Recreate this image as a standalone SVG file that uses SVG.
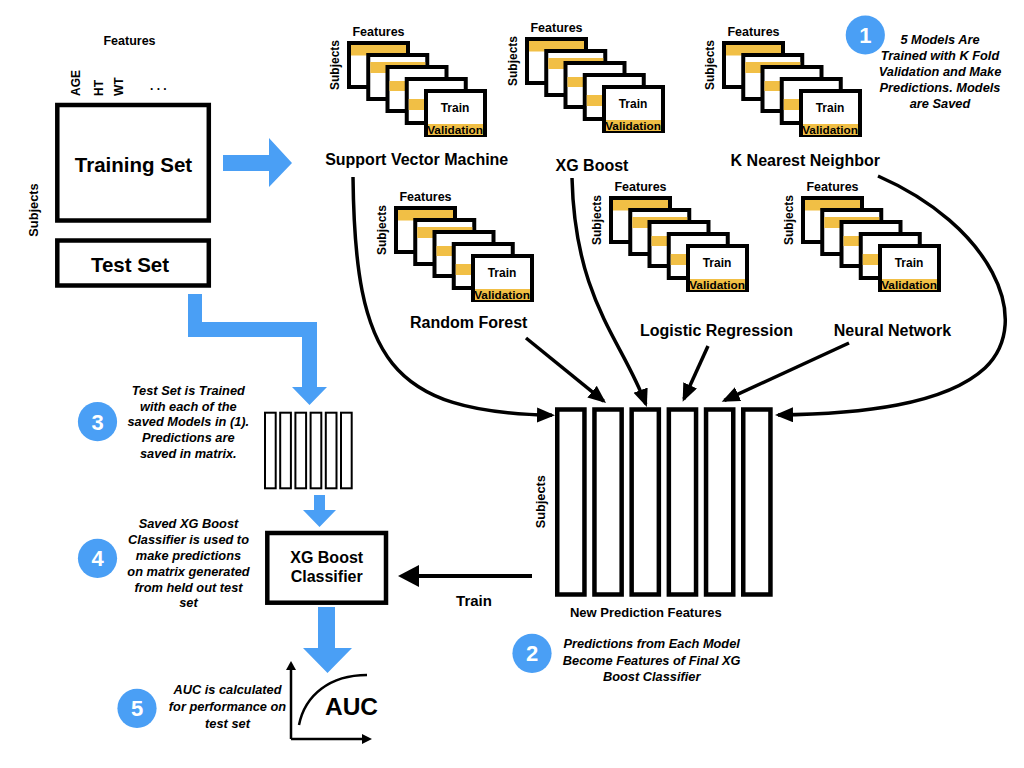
<svg xmlns="http://www.w3.org/2000/svg" xmlns:xlink="http://www.w3.org/1999/xlink" width="1024" height="768" viewBox="0 0 1024 768">
<style>
.t{font-family:"Liberation Sans",Arial,sans-serif;font-weight:bold;fill:#000}
.c{text-anchor:middle}
.it{font-style:italic;font-size:12.8px}
.lbl{font-size:16px}
.sm{font-size:12.5px}
.blue{fill:#4A9FF5}
.num{font-family:"Liberation Sans",Arial,sans-serif;font-weight:bold;font-size:22px;fill:#fff;text-anchor:middle}
.box{fill:#fff;stroke:#000;stroke-width:4.5}
.col{fill:#fff;stroke:#000;stroke-width:2}
.card{fill:#fff;stroke:#000;stroke-width:4}
.band{fill:#F1BF45}
.conn{fill:none;stroke:#000;stroke-width:3.5}
</style>
<defs>
<marker id="ah" markerUnits="userSpaceOnUse" markerWidth="20" markerHeight="16" refX="15" refY="7.5" orient="auto">
<path d="M0,0 L18,7.5 L0,15 z" fill="#000"/>
</marker>
<g id="stack">
<rect class="card" x="2" y="2" width="59" height="44"/><rect class="band" x="4" y="4" width="55" height="10.5"/>
<rect class="card" x="21.25" y="14" width="59" height="44"/><rect class="band" x="23.25" y="21" width="55" height="11"/>
<rect class="card" x="40.5" y="26" width="59" height="44"/><rect class="band" x="42.5" y="40" width="55" height="10"/>
<rect class="card" x="59.75" y="38" width="59" height="44"/><rect class="band" x="61.75" y="58" width="55" height="11"/>
<rect class="card" x="79" y="50" width="59" height="44"/><rect class="band" x="81" y="83" width="55" height="11"/>
</g>
</defs>
<rect width="1024" height="768" fill="#fff"/>

<g id="data">
<text class="t c sm" x="129.5" y="45">Features</text>
<text class="t" font-size="12" transform="translate(80,96) rotate(-90)">AGE</text>
<text class="t" font-size="12" transform="translate(102.5,96) rotate(-90)">HT</text>
<text class="t" font-size="12" transform="translate(123,96) rotate(-90)">WT</text>
<text class="t" font-size="12" x="150" y="90">. . .</text>
<text class="t c" font-size="12.8" transform="translate(38,210) rotate(-90)">Subjects</text>
</g>
<g id="training-set">
<rect class="box" x="57.3" y="105" width="151.5" height="115.5"/>
<text class="t c" font-size="20.5" x="133.5" y="171.5">Training Set</text>
</g>
<g id="test-set">
<rect class="box" x="57.3" y="240.5" width="151.5" height="45"/>
<text class="t c" font-size="20.5" x="130" y="271.5">Test Set</text>
</g>

<g id="svm">
<use xlink:href="#stack" href="#stack" x="347" y="41"/>
<text class="t c sm" x="378.5" y="36">Features</text>
<text class="t c" font-size="12" transform="translate(338.5,65) rotate(-90)">Subjects</text>
<text class="t c" font-size="12" x="455" y="112">Train</text>
<text class="t c" font-size="11.8" x="455" y="133.5">Validation</text>
<text class="t c lbl" x="416.7" y="165">Support Vector Machine</text>
</g>
<g id="xgboost">
<use xlink:href="#stack" href="#stack" x="525" y="37"/>
<text class="t c sm" x="556.5" y="32">Features</text>
<text class="t c" font-size="12" transform="translate(516.5,61) rotate(-90)">Subjects</text>
<text class="t c" font-size="12" x="633" y="108">Train</text>
<text class="t c" font-size="11.8" x="633" y="129.5">Validation</text>
<text class="t c lbl" x="592" y="171">XG Boost</text>
</g>
<g id="knn">
<use xlink:href="#stack" href="#stack" x="722" y="41"/>
<text class="t c sm" x="753.5" y="36">Features</text>
<text class="t c" font-size="12" transform="translate(713.5,65) rotate(-90)">Subjects</text>
<text class="t c" font-size="12" x="830" y="112">Train</text>
<text class="t c" font-size="11.8" x="830" y="133.5">Validation</text>
<text class="t c lbl" x="805.3" y="165.5">K Nearest Neighbor</text>
</g>
<g id="random-forest">
<use xlink:href="#stack" href="#stack" x="394" y="206"/>
<text class="t c sm" x="425.5" y="201">Features</text>
<text class="t c" font-size="12" transform="translate(385.5,230) rotate(-90)">Subjects</text>
<text class="t c" font-size="12" x="502" y="277">Train</text>
<text class="t c" font-size="11.8" x="502" y="298.5">Validation</text>
<text class="t c lbl" x="468.7" y="328">Random Forest</text>
</g>
<g id="logistic-regression">
<use xlink:href="#stack" href="#stack" x="609" y="196"/>
<text class="t c sm" x="640.5" y="191">Features</text>
<text class="t c" font-size="12" transform="translate(600.5,220) rotate(-90)">Subjects</text>
<text class="t c" font-size="12" x="717" y="267">Train</text>
<text class="t c" font-size="11.8" x="717" y="288.5">Validation</text>
<text class="t c lbl" x="716.5" y="336">Logistic Regression</text>
</g>
<g id="neural-network">
<use xlink:href="#stack" href="#stack" x="801" y="196"/>
<text class="t c sm" x="832.5" y="191">Features</text>
<text class="t c" font-size="12" transform="translate(792.5,220) rotate(-90)">Subjects</text>
<text class="t c" font-size="12" x="909" y="267">Train</text>
<text class="t c" font-size="11.8" x="909" y="288.5">Validation</text>
<text class="t c lbl" x="892.5" y="336">Neural Network</text>
</g>

<g id="step1">
<circle class="blue" cx="865.3" cy="35" r="19.6"/>
<text class="num" x="865.3" y="43">1</text>
<text class="t c it" x="940" y="44.3">5 Models Are</text>
<text class="t c it" x="940" y="60.3">Trained with K Fold</text>
<text class="t c it" x="940" y="76.3">Validation and Make</text>
<text class="t c it" x="940" y="92.3">Predictions. Models</text>
<text class="t c it" x="940" y="108.3">are Saved</text>
</g>

<g id="prediction-matrix">
<rect class="box" x="557.25" y="409.5" width="27.2" height="185"/>
<rect class="box" x="594.45" y="409.5" width="27.2" height="185"/>
<rect class="box" x="631.65" y="409.5" width="27.2" height="185"/>
<rect class="box" x="668.85" y="409.5" width="27.2" height="185"/>
<rect class="box" x="706.05" y="409.5" width="27.2" height="185"/>
<rect class="box" x="743.25" y="409.5" width="27.2" height="185"/>
<text class="t c" font-size="12.8" transform="translate(545,501.7) rotate(-90)">Subjects</text>
<text class="t c" font-size="13" x="645.8" y="616.7">New Prediction Features</text>
</g>

<g id="step2">
<circle class="blue" cx="532" cy="653.3" r="19.6"/>
<text class="num" x="532" y="661.3">2</text>
<text class="t c it" x="651.7" y="647.7">Predictions from Each Model</text>
<text class="t c it" x="651.7" y="664.7">Become Features of Final XG</text>
<text class="t c it" x="651.7" y="680.5">Boost Classifier</text>
</g>

<g id="test-matrix">
<rect class="col" x="265" y="412.7" width="10.7" height="75.6"/>
<rect class="col" x="280.2" y="412.7" width="10.7" height="75.6"/>
<rect class="col" x="295.4" y="412.7" width="10.7" height="75.6"/>
<rect class="col" x="310.6" y="412.7" width="10.7" height="75.6"/>
<rect class="col" x="325.8" y="412.7" width="10.7" height="75.6"/>
<rect class="col" x="341" y="412.7" width="10.7" height="75.6"/>
</g>

<g id="step3">
<circle class="blue" cx="97.5" cy="421.7" r="19.6"/>
<text class="num" x="97.5" y="429.7">3</text>
<text class="t c it" x="188.3" y="395">Test Set is Trained</text>
<text class="t c it" x="188.3" y="410.7">with each of the</text>
<text class="t c it" x="188.3" y="426.3">saved Models in (1).</text>
<text class="t c it" x="188.3" y="442">Predictions are</text>
<text class="t c it" x="188.3" y="457.7">saved in matrix.</text>
</g>

<g id="xgb-classifier">
<rect class="box" x="267.3" y="533" width="118.7" height="69.7"/>
<text class="t c" font-size="16" x="326.7" y="563">XG Boost</text>
<text class="t c" font-size="16" x="326.7" y="581.7">Classifier</text>
</g>

<g id="step4">
<circle class="blue" cx="97.5" cy="558.3" r="19.6"/>
<text class="num" x="97.5" y="566.3">4</text>
<text class="t c it" x="188.5" y="528.3">Saved XG Boost</text>
<text class="t c it" x="188.5" y="544.1">Classifier is used to</text>
<text class="t c it" x="188.5" y="559.9">make predictions</text>
<text class="t c it" x="188.5" y="575.7">on matrix generated</text>
<text class="t c it" x="188.5" y="591.5">from held out test</text>
<text class="t c it" x="188.5" y="607.3">set</text>
</g>

<g id="auc">
<path d="M291,739 L291,668 M291,739 L364,739" fill="none" stroke="#000" stroke-width="2.5"/>
<polygon points="286,670 291,661 296,670" fill="#000"/>
<polygon points="362,734 372,739 362,744" fill="#000"/>
<path d="M299,725 C305,695 330,675 367,675" fill="none" stroke="#000" stroke-width="2.5"/>
<text class="t c" font-size="24.5" x="351.5" y="715">AUC</text>
</g>

<g id="step5">
<circle class="blue" cx="137" cy="708.3" r="19.6"/>
<text class="num" x="137" y="716.3">5</text>
<text class="t c it" x="227.5" y="694.3">AUC is calculated</text>
<text class="t c it" x="227.5" y="711.2">for performance on</text>
<text class="t c it" x="227.5" y="727.5">test set</text>
</g>

<g id="connectors">
<polygon class="blue" points="223,155 269,155 269,138 292,163 269,187 269,171 223,171"/>
<polygon class="blue" points="188,294 202,294 202,322 317,322 317,387 327,387 309.5,405 292,387 302,387 302,337 188,337"/>
<polygon class="blue" points="314,495 325,495 325,510 336,510 319.5,527 303,510 314,510"/>
<polygon class="blue" points="318,607 335,607 335,648 352,648 327.5,673 303,648 318,648"/>
<path class="conn" marker-end="url(#ah)" d="M353,177 C355,360 390,412 552,415.3"/>
<path class="conn" marker-end="url(#ah)" d="M526,338 L603.7,401.1"/>
<path class="conn" marker-end="url(#ah)" d="M572,178 C575,300 622,340 645.8,404.2"/>
<path class="conn" marker-end="url(#ah)" d="M708,346 L683.9,399"/>
<path class="conn" marker-end="url(#ah)" d="M849,343 L724.4,400.4"/>
<path class="conn" marker-end="url(#ah)" d="M878,176 C990,225 1035,320 985,368 C945,405 860,414 778,415"/>
<path d="M532,576 L416,576" fill="none" stroke="#000" stroke-width="4"/>
<polygon points="419,565 398,576 419,587" fill="#000"/>
<text class="t c" font-size="15" x="474" y="606">Train</text>
</g>
</svg>
